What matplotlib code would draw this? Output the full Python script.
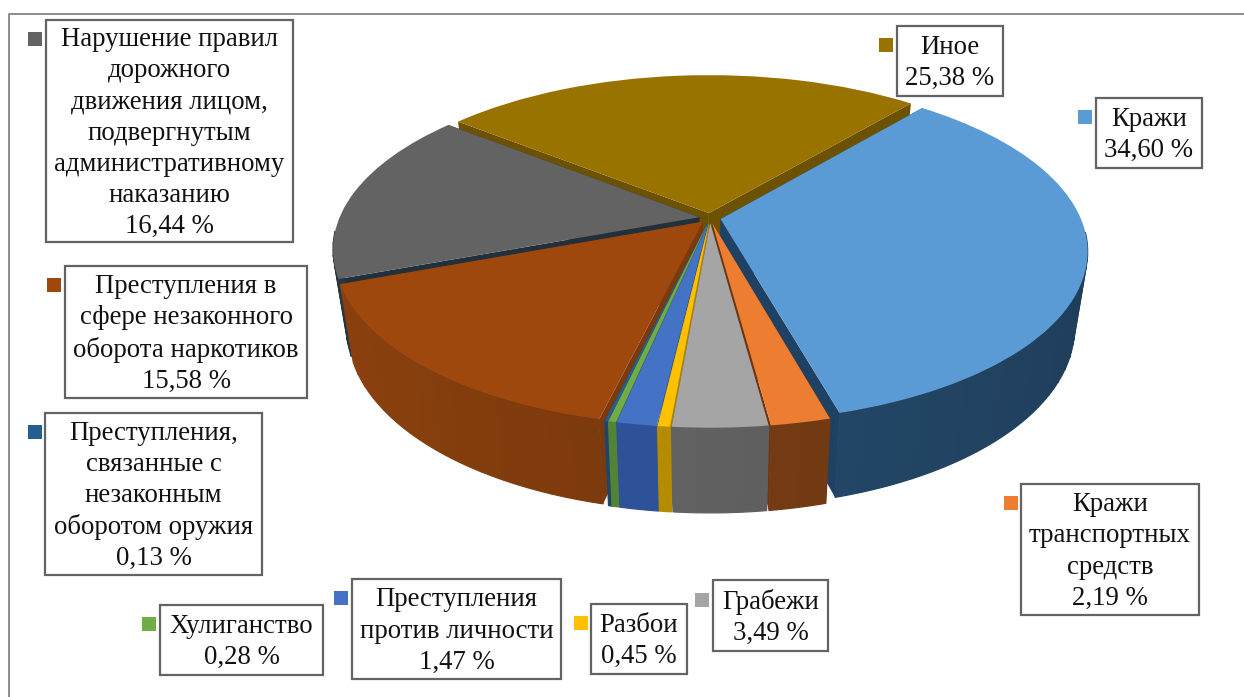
import numpy as np
import matplotlib
matplotlib.use("Agg")
import matplotlib.pyplot as plt
from matplotlib.colors import to_rgb
from matplotlib.patches import Rectangle
from matplotlib.path import Path
from matplotlib.transforms import Transform

# ---- data ----
labels = [
    "Кражи",
    "Кражи\nтранспортных\nсредств",
    "Грабежи",
    "Разбои",
    "Преступления\nпротив личности",
    "Хулиганство",
    "Преступления,\nсвязанные с\nнезаконным\nоборотом оружия",
    "Преступления в\nсфере незаконного\nоборота наркотиков",
    "Нарушение правил\nдорожного\nдвижения лицом,\nподвергнутым\nадминистративному\nнаказанию",
    "Иное",
]
values = [34.60, 2.19, 3.49, 0.45, 1.47, 0.28, 0.13, 15.58, 16.44, 25.38]

# ---- styles ----
top_colors = ["#5B9BD5", "#ED7D31", "#A5A5A5", "#FFC000", "#4472C4",
              "#70AD47", "#255E91", "#9E480E", "#636363", "#997300"]
wall_colors = ["#254A6C", "#773C14", "#616161", "#B28A00", "#2C5094",
               "#507F33", "#1B4468", "#78380C", "#22303C", "#6B5100"]
radial_colors = ["#1F4163", "#6E3510", "#5A5A5A", "#A88200", "#284A8A",
                 "#4A752E", "#1A4060", "#7A3A0E", "#22303C", "#6B5100"]

# ---- layout: box (x0, y0, x1, y1) and legend key (x0, y0) in pixels ----
boxes = [(1096, 98, 1202, 168), (1021, 484, 1199, 615), (713, 580, 828, 651),
         (591, 604, 687, 674), (352, 579, 561, 679), (160, 605, 323, 675),
         (45, 413, 262, 575), (65, 266, 307, 398), (46, 20, 293, 242),
         (897, 26, 1003, 96)]
keys = [(1078, 110), (1004, 496), (695, 593), (574, 616), (334, 591),
        (142, 617), (28, 425), (47, 278), (28, 32), (879, 38)]

W, H = 1244, 697
CX, CY, BX, AY, K, DEPTH, SHRINK = 710.0, 218.0, 360.0, 165.0, 0.184, 75.0, 0.035


def project(X, Y, z=0.0):
    s = 1.0 / (1.0 + K * np.asarray(Y))
    c = 1.0 - SHRINK * np.asarray(z)
    return (CX + BX * np.asarray(X) * s * c,
            CY - AY * np.asarray(Y) * s * c + DEPTH * np.asarray(z) * s)


class Perspective(Transform):
    input_dims = output_dims = 2
    is_separable = False
    has_inverse = False

    def transform_non_affine(self, xy):
        xy = np.asarray(xy, dtype=float)
        px, py = project(xy[:, 0], xy[:, 1])
        return np.column_stack([px, py])

    def transform_path_non_affine(self, path):
        return Path(self.transform_non_affine(path.vertices), path.codes)


plt.rcParams["font.family"] = ["Liberation Serif", "DejaVu Serif"]
fig = plt.figure(figsize=(W / 100, H / 100), dpi=100, facecolor="white")
ax = fig.add_axes([0, 0, 1, 1])

wedges, _ = ax.pie(values, startangle=50, counterclock=False, radius=1.0,
                   explode=[0.03] * len(values), colors=top_colors,
                   wedgeprops={"linewidth": 0})
ax.set_aspect("auto")
ax.set_xlim(0, W)
ax.set_ylim(H, 0)
ax.axis("off")

persp = Perspective() + ax.transData


def shaded(color, X):
    f = np.clip(1.0 - 0.16 * X, 0, 1.3)
    return tuple(np.clip(np.array(to_rgb(color)) * f, 0, 1))


# paint from the far side of the pie to the near side
mids = [np.radians((w.theta1 + w.theta2) / 2) for w in wedges]
order = np.argsort(-np.sin(mids))
for rank, i in enumerate(order):
    w = wedges[i]
    ox, oy = w.center
    base = 10 + rank
    # radial faces
    for th in (w.theta1, w.theta2):
        ex, ey = ox + np.cos(np.radians(th)), oy + np.sin(np.radians(th))
        xs = np.array([ox, ex, ex, ox])
        ys = np.array([oy, ey, ey, oy])
        zs = np.array([0, 0, 1, 1])
        px, py = project(xs, ys, zs)
        ax.fill(px, py, color=radial_colors[i], lw=0, zorder=base)
    # outer wall: overlapping shaded bands, only the camera-facing part
    steps = max(2, int((w.theta2 - w.theta1) / 4.0) + 1)
    ths = np.radians(np.linspace(w.theta1, w.theta2, steps + 1))
    for k, a in enumerate(ths[:-1]):
        t = np.linspace(a, ths[k + 1], 6)
        if np.sin(t).mean() > -0.1:
            continue
        X = ox + np.cos(t)
        Y = oy + np.sin(t)
        px0, py0 = project(X, Y, 0)
        px1, py1 = project(X, Y, 1)
        c = shaded(wall_colors[i], X.mean())
        ax.fill(np.r_[px0, px1[::-1]], np.r_[py0, py1[::-1]], facecolor=c,
                edgecolor=c, lw=0.9, zorder=base + 0.2 + k * 1e-4)
    w.set_transform(persp)
    w.set_zorder(base + 0.5)

# outer frame of the picture
ax.plot([W, 8.5, 8.5], [13.5, 13.5, H], color="#8C8C8C", lw=1.4, zorder=1)

# data labels with legend keys
for i, (lab, val) in enumerate(zip(labels, values)):
    x0, y0, x1, y1 = boxes[i]
    ax.add_patch(Rectangle((x0, y0), x1 - x0, y1 - y0, facecolor="white",
                           edgecolor="#636363", lw=1.6, zorder=50))
    txt = lab + "\n" + f"{val:.2f}".replace(".", ",") + " %"
    ax.text((x0 + x1) / 2, (y0 + y1) / 2 + 2, txt, ha="center", va="center",
            fontsize=19.3, linespacing=1.32, color="#111111", zorder=51)
    kx, ky = keys[i]
    ax.add_patch(Rectangle((kx, ky), 14, 14, facecolor=top_colors[i],
                           edgecolor="none", zorder=50))

fig.savefig("out.png", dpi=100, facecolor="white")
